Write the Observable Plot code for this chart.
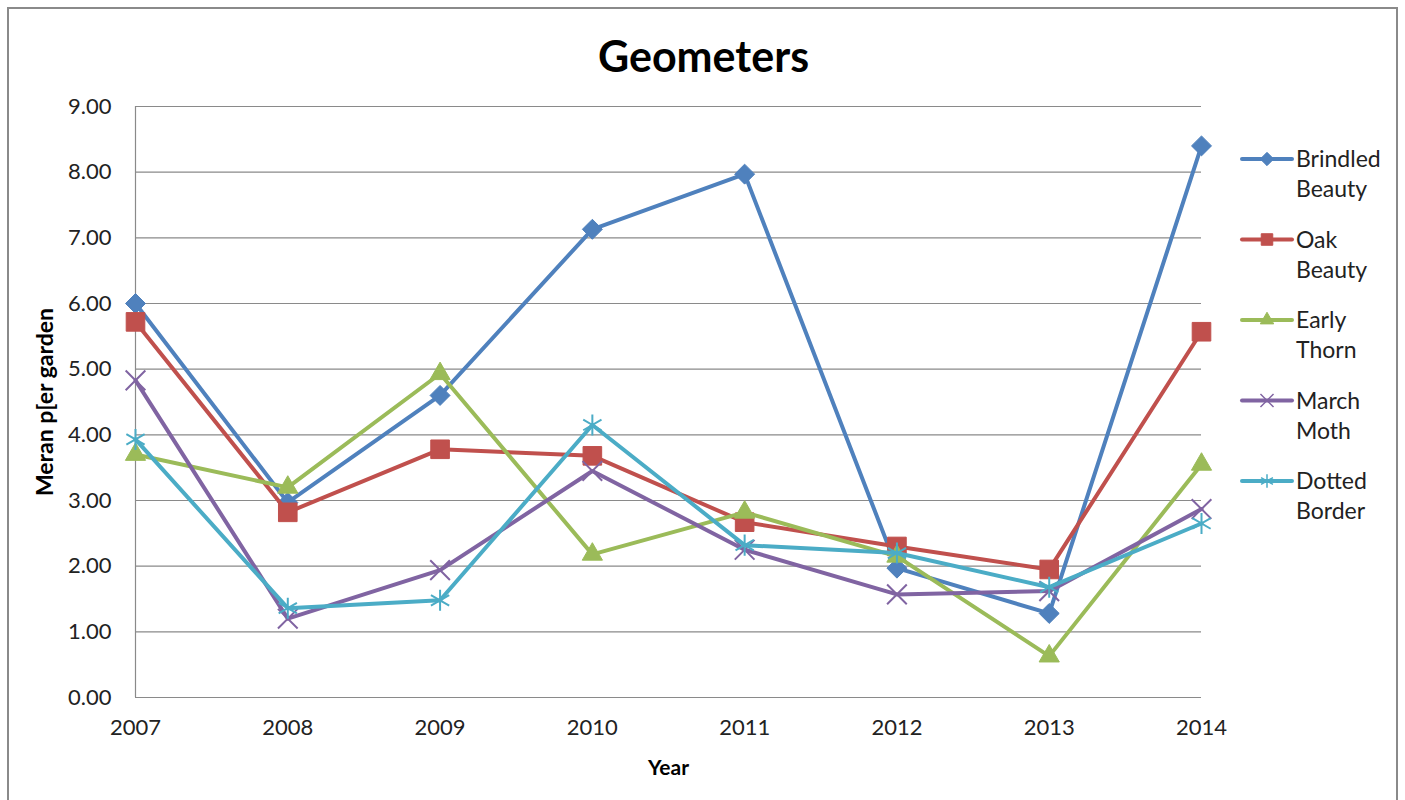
<!DOCTYPE html>
<html>
<head>
<meta charset="utf-8">
<script src="https://cdn.jsdelivr.net/npm/d3@7"></script>
<script src="https://cdn.jsdelivr.net/npm/@observablehq/plot@0.6"></script>
<style>
  html, body { margin: 0; padding: 0; background: #fff; }
  #wrap { position: relative; width: 1405px; height: 800px; overflow: hidden; font-family: Lato, "Open Sans", sans-serif; }
  #border { position: absolute; left: 7px; top: 7px; width: 1391px; height: 810px; border: 2px solid #8a8a8a; box-sizing: border-box; }
  #chart { position: absolute; left: 0; top: 0; }
  #legend { position: absolute; left: 0; top: 0; }
</style>
</head>
<body>
<div id="wrap">
  <div id="border"></div>
  <div id="chart"></div>
  <svg id="legend" width="1405" height="800"></svg>
</div>
<script>
const years = [2007, 2008, 2009, 2010, 2011, 2012, 2013, 2014];
const brindledBeauty = [6.00, 2.97, 4.60, 7.13, 7.97, 1.97, 1.28, 8.40];
const oakBeauty      = [5.72, 2.82, 3.78, 3.68, 2.67, 2.30, 1.95, 5.57];
const earlyThorn     = [3.70, 3.20, 4.93, 2.18, 2.82, 2.15, 0.63, 3.55];
const marchMoth      = [4.83, 1.20, 1.94, 3.45, 2.25, 1.57, 1.62, 2.87];
const dottedBorder   = [3.93, 1.36, 1.48, 4.15, 2.32, 2.20, 1.68, 2.65];
const seriesNames = ["Brindled Beauty", "Oak Beauty", "Early Thorn", "March Moth", "Dotted Border"];
const seriesValues = [brindledBeauty, oakBeauty, earlyThorn, marchMoth, dottedBorder];
const seriesColors = ["#4F81BD", "#C0504D", "#9BBB59", "#8064A2", "#4BACC6"];
const seriesSymbols = ["diamond2", "square", "triangle", "times", "asterisk"];
const yTicks = [0, 1, 2, 3, 4, 5, 6, 7, 8, 9];

const title = "Geometers";
const xLabel = "Year";
const yLabel = "Meran p[er garden";

const markerR = { diamond2: 9, square: 10.5, triangle: 7.5, times: 9, asterisk: 10 };
const strokeSymbols = new Set(["times", "asterisk"]);

const marks = [
  Plot.ruleY(yTicks, { stroke: "#8a8a8a", strokeWidth: 1.2 }),
  Plot.ruleX([years[0]], { stroke: "#8a8a8a", strokeWidth: 1.2 }),
  Plot.axisY({ ticks: yTicks, tickSize: 0, tickPadding: 24, tickFormat: d3.format(".2f"), fontSize: 22, label: null, fill: "#222" }),
  Plot.axisX({ ticks: years, tickSize: 0, tickPadding: 22, tickFormat: d3.format("d"), fontSize: 22, label: null, fill: "#222" })
];

seriesNames.forEach((name, i) => {
  const rows = years.map((yr, j) => ({ year: yr, value: seriesValues[i][j], series: name }));
  const sym = seriesSymbols[i];
  const col = seriesColors[i];
  marks.push(Plot.line(rows, { x: "year", y: "value", stroke: col, strokeWidth: 4, strokeLinejoin: "round" }));
  if (strokeSymbols.has(sym)) {
    marks.push(Plot.dot(rows, { x: "year", y: "value", symbol: () => sym, r: markerR[sym], stroke: col, strokeWidth: 2, fill: "none" }));
  } else {
    marks.push(Plot.dot(rows, { x: "year", y: "value", symbol: () => sym, r: markerR[sym], fill: col, stroke: col, strokeWidth: 1 }));
  }
});

marks.push(
  Plot.text([title], { frameAnchor: "top", lineAnchor: "middle", dx: 35, dy: -48, fontSize: 43, fontWeight: "bold", fill: "#000" }),
  Plot.text([xLabel], { frameAnchor: "bottom", lineAnchor: "middle", dy: 71, fontSize: 21, fontWeight: "bold", fill: "#000" }),
  Plot.text([yLabel], { frameAnchor: "left", textAnchor: "middle", lineAnchor: "middle", dx: -90, rotate: -90, fontSize: 23, fontWeight: "bold", fill: "#000" })
);

const chart = Plot.plot({
  width: 1405,
  height: 800,
  marginLeft: 135,
  marginRight: 204,
  marginTop: 106,
  marginBottom: 103,
  style: { fontFamily: "Lato, 'Open Sans', sans-serif", background: "transparent", overflow: "visible" },
  x: { type: "linear", domain: [years[0], years[years.length - 1]] },
  y: { domain: [0, 9] },
  symbol: { type: "identity" },
  marks
});
document.getElementById("chart").appendChild(chart);

// Legend
const leg = d3.select("#legend");
const legendTop = 159, legendStep = 80.5;
const legendR = { diamond2: 6, square: 6.5, triangle: 5, times: 6, asterisk: 6.5 };
const symMap = { diamond2: d3.symbolDiamond2, square: d3.symbolSquare, triangle: d3.symbolTriangle, times: d3.symbolTimes, asterisk: d3.symbolAsterisk };
seriesNames.forEach((name, i) => {
  const y = legendTop + i * legendStep;
  const g = leg.append("g");
  g.append("line").attr("x1", 1242).attr("x2", 1292).attr("y1", y).attr("y2", y)
    .attr("stroke", seriesColors[i]).attr("stroke-width", 4).attr("stroke-linecap", "round");
  const sym = seriesSymbols[i];
  const r = legendR[sym];
  const p = g.append("path").attr("transform", `translate(1267,${y})`)
    .attr("d", d3.symbol(symMap[sym], Math.PI * r * r)());
  if (strokeSymbols.has(sym)) p.attr("fill", "none").attr("stroke", seriesColors[i]).attr("stroke-width", 1.5);
  else p.attr("fill", seriesColors[i]).attr("stroke", seriesColors[i]);
  const words = name.split(" ");
  words.forEach((w, k) => {
    g.append("text").attr("x", 1296).attr("y", y + k * 30).attr("dy", "0.35em")
      .attr("font-size", 23).attr("font-family", "Lato, 'Open Sans', sans-serif").attr("fill", "#222").text(w);
  });
});
</script>
</body>
</html>
